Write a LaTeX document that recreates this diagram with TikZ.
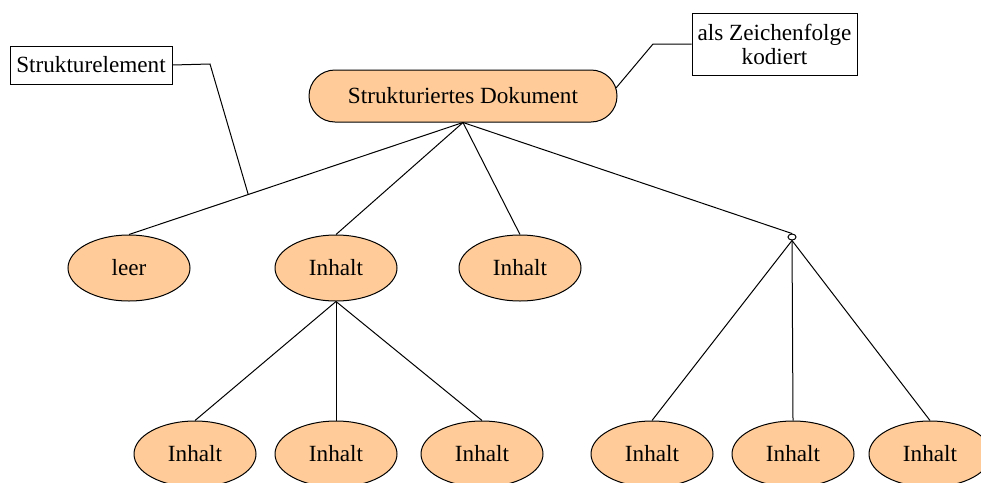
\documentclass[tikz,border=0pt]{standalone}
\usepackage{fontspec}
\setmainfont{Liberation Serif}
\usetikzlibrary{shapes.geometric,calc}
\definecolor{peach}{HTML}{FFCC99}
\begin{document}
\begin{tikzpicture}[x=1pt,y=-1pt,
  every node/.style={font=\fontsize{23.2}{27}\selectfont},
  link/.style={draw=black,line width=1pt},
  docnode/.style={draw,line width=1pt,fill=peach,rounded corners=26pt,
    minimum width=308pt,minimum height=52pt,inner sep=0pt},
  part/.style={draw,line width=1pt,fill=peach,ellipse,
    minimum width=122pt,minimum height=66pt,inner sep=0pt},
  note/.style={draw,line width=1pt,fill=white,inner sep=0pt,align=center},
  junction/.style={draw,line width=1pt,fill=white,ellipse,
    minimum width=8pt,minimum height=6pt,inner sep=0pt}]
\useasboundingbox (0,0) rectangle (981,482);

% document root and its parts
\node[docnode] (root) at (463,96) {Strukturiertes Dokument};
\node[part] (leer) at (129,268) {leer};
\node[part] (inh1) at (336,268) {Inhalt};
\node[part] (inh2) at (520,268) {Inhalt};
\node[junction] (junc) at (792,237) {};

\node[part] (a1) at (195,454) {Inhalt};
\node[part] (a2) at (336,454) {Inhalt};
\node[part] (a3) at (482,454) {Inhalt};
\node[part] (b1) at (652,454) {Inhalt};
\node[part] (b2) at (793,454) {Inhalt};
\node[part] (b3) at (930,454) {Inhalt};

% tree edges
\foreach \c in {leer,inh1,inh2,junc}
  \draw[link] (root.south) -- (\c.north);
\foreach \c in {a1,a2,a3}
  \draw[link] (inh1.south) -- (\c.north);
\foreach \c in {b1,b2,b3}
  \draw[link] (junc.south) -- (\c.north);

% annotations
\node[note,minimum width=162pt,minimum height=38pt] (se) at (91,65) {Strukturelement};
\node[note,minimum width=165pt,minimum height=62pt] (zk) at (774.5,44)
  {als Zeichenfolge\\[-3pt]kodiert};

\coordinate (seknee) at (210,64);
\coordinate (setip) at ($(root.south)!0.643!(leer.north)$);
\draw[link] (se.east) -- (seknee) -- (setip);

\coordinate (zkknee) at (653,44);
\coordinate (zktip) at (616,88);
\draw[link] (zk.west) -- (zkknee) -- (zktip);
\end{tikzpicture}
\end{document}
